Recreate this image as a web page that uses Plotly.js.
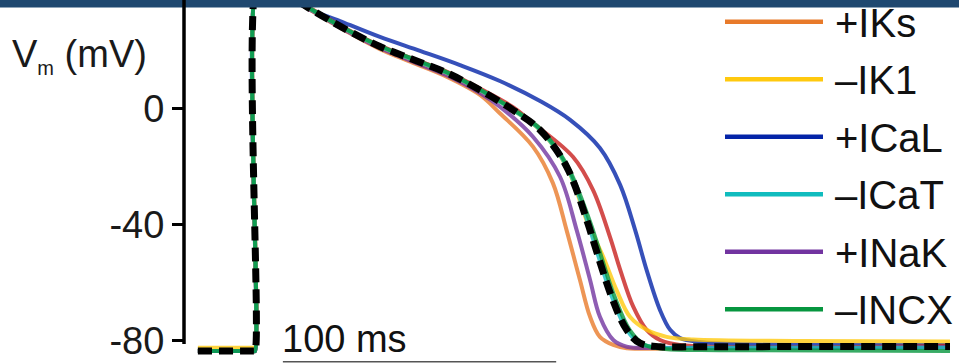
<!DOCTYPE html>
<html><head><meta charset="utf-8">
<script src="https://cdn.plot.ly/plotly-3.0.1.min.js"></script>
<style>html,body{margin:0;padding:0;background:#fff;overflow:hidden}#chart{width:959px;height:364px}</style>
</head><body><div id="chart"></div>
<script>
// ---- data (time in ms relative to upstroke, membrane potential in mV) ----
const timeControl = [-20.9, -0.4, 0, 1.2, 4, 10, 20.9, 33.7, 45.7, 57.8, 70.3, 82.3, 94.4, 104.3, 114.0, 121.8, 123.7, 130.5, 136.0, 140.9, 148.2, 162.8, 254.3];
const vmControl   = [-83.7, -83.7, -83.7, 46, 45, 40.5, 33.9, 27.0, 21.3, 16.8, 12.2, 6.3, -0.6, -7.5, -20.1, -39.7, -45.4, -65.0, -76.4, -81.0, -82.2, -82.2, -82.1];

const timeIKr = [-20.9, -0.4, 0, 1.2, 4, 10, 20.9, 33.7, 45.7, 57.8, 70.3, 82.3, 94.4, 101.7, 116.4, 123.7, 129.9, 133.6, 138.4, 143.3, 148.2, 155.5, 254.3];
const vmIKr   = [-83.7, -83.7, -83.7, 46, 45, 40.8, 34.2, 27.3, 21.6, 17.1, 12.6, 6.8, 0.4, -5.1, -16.8, -28.2, -44.4, -55.6, -68.4, -76.4, -79.9, -81.6, -81.9];

const timeICaL = [-20.9, -0.4, 0, 1.2, 4, 10, 17.6, 31.1, 45.7, 60.4, 75.0, 89.6, 104.3, 115.3, 126.2, 133.6, 139.1, 143.3, 148.2, 151.9, 155.5, 162.8, 181.1, 254.3];
const vmICaL   = [-83.7, -83.7, -83.7, 46, 46, 42, 35.3, 30.1, 24.6, 19.8, 14.9, 9.4, 2.5, -4.0, -13.7, -26.4, -42.0, -55.8, -69.6, -76.4, -79.2, -80.6, -81.4, -81.6];

const timeIKs = [-20.9, -0.4, 0, 1.2, 4, 10, 20.9, 33.7, 45.7, 57.8, 70.3, 82.3, 89.6, 101.7, 109.0, 114.0, 118.9, 122.6, 126.2, 131.1, 136.0, 162.8, 254.3];
const vmIKs   = [-83.7, -83.7, -83.7, 46, 45, 40, 33.5, 26.4, 20.4, 15.7, 10.8, 4.6, -1.7, -13.2, -25.8, -42.0, -59.2, -71.9, -78.8, -81.6, -82.7, -82.7, -82.5];

const timeINaK = [-20.9, -0.4, 0, 1.2, 4, 10, 20.9, 33.7, 45.7, 57.8, 70.3, 82.3, 89.6, 101.7, 111.6, 117.7, 122.6, 126.2, 131.1, 136.0, 148.2, 254.3];
const vmINaK   = [-83.7, -83.7, -83.7, 46, 45, 40.2, 33.6, 26.6, 20.8, 16.1, 11.3, 5.3, 0.6, -9.8, -23.6, -42.0, -59.2, -71.9, -79.9, -82.2, -82.6, -82.3];

const timeIK1 = [-20.9, -0.4, 0, 1.2, 4, 10, 20.9, 33.7, 45.7, 57.8, 70.3, 82.3, 94.4, 104.3, 114.0, 121.8, 127.4, 132.3, 137.2, 143.3, 150.6, 160.3, 199.4, 254.3];
const vmIK1   = [-82.6, -82.6, -82.6, 46, 45, 40.5, 33.9, 27.0, 21.3, 16.8, 12.2, 6.3, -0.6, -7.5, -20.1, -39.7, -51.2, -62.7, -71.9, -76.4, -78.8, -79.7, -80.2, -80.4];

const timeICaT = [-20.9, -0.4, 0, 1.2, 4, 10, 20.9, 33.7, 45.7, 57.8, 70.3, 82.3, 94.4, 104.3, 114.0, 121.8, 123.7, 130.5, 136.0, 140.9, 148.2, 162.8, 254.3];
const vmICaT   = [-83.7, -83.7, -83.7, 46, 45, 40.5, 33.9, 27.0, 21.3, 16.8, 12.2, 6.3, -0.6, -7.4, -19.9, -39.4, -45.1, -64.7, -76.3, -81.1, -82.5, -82.6, -82.6];

const timeINCX = [-20.9, -0.4, 0, 1.2, 4, 10, 20.9, 33.7, 45.7, 57.8, 70.3, 82.3, 94.4, 104.3, 114.0, 122.8, 124.8, 131.6, 137.2, 142.5, 150.0, 170.0, 254.3];
const vmINCX   = [-83.7, -83.7, -83.7, 46, 45, 40.6, 34.0, 27.1, 21.5, 17.0, 12.4, 6.5, -0.3, -7.0, -19.3, -39.7, -45.4, -65.0, -76.6, -81.5, -83.0, -83.4, -83.7];

const legendNames  = ['+IKs', '\u2013IK1', '+ICaL', '\u2013ICaT', '+INaK', '\u2013INCX'];
const legendColors = ['#E87A2A', '#FFC90E', '#0424A8', '#10BCBE', '#7234A0', '#06963F'];
const colorIKr = '#C8201E';

const yTickVals = [-80, -40, 0];
const yTickText = ['-80', '-40', '0'];
const scaleBarStart = 10.2, scaleBarLength = 100, scaleBarLabel = '100 ms';

// ---- layout geometry ----
const W = 959, H = 364, ML = 184;
const plotW = W - ML;
const px2x = px => (px - ML) / plotW;
const py2y = py => 1 - py / H;
const yTop = 37.35, yBottom = -88.17;
const FONT = 'Liberation Sans, Arial, sans-serif';

function curve(t, v, color, width) {
  return {
    x: t, y: v, type: 'scatter', mode: 'lines', hoverinfo: 'skip', showlegend: false,
    line: {color: color, width: width, shape: 'spline', smoothing: 1}, opacity: 0.8
  };
}

const traces = [
  curve(timeICaL, vmICaL, legendColors[2], 4),
  curve(timeIKr, vmIKr, colorIKr, 4),
  curve(timeIKs, vmIKs, legendColors[0], 4),
  curve(timeINaK, vmINaK, legendColors[4], 4),
  curve(timeIK1, vmIK1, legendColors[1], 4),
  curve(timeICaT, vmICaT, legendColors[3], 4),
  curve(timeINCX, vmINCX, legendColors[5], 4),
  {x: timeControl, y: vmControl, type: 'scatter', mode: 'lines', hoverinfo: 'skip', showlegend: false,
   line: {color: '#000', width: 7, dash: '14px,7px', shape: 'spline', smoothing: 1}}
];

const shapes = [
  // header band
  {type: 'rect', xref: 'paper', yref: 'paper', x0: px2x(0), x1: 1, y0: py2y(7.5), y1: 1,
   fillcolor: '#1F4870', line: {width: 0}, layer: 'above'},
  // y axis line
  {type: 'line', xref: 'paper', yref: 'y', x0: 0, x1: 0, y0: -81.3, y1: yTop,
   line: {color: '#000', width: 3.5}},
  // scale bar
  {type: 'line', xref: 'x', yref: 'y', x0: scaleBarStart, x1: scaleBarStart + scaleBarLength,
   y0: -87.4, y1: -87.4, line: {color: '#555', width: 1.5}}
];

const annotations = [
  {xref: 'paper', yref: 'paper', x: px2x(10), y: py2y(31), xanchor: 'left', yanchor: 'top',
   text: "V<sub><span style='font-size:20px'>m</span></sub> (mV)", showarrow: false,
   font: {family: FONT, size: 38, color: '#1a1a1a'}},
  {xref: 'x', yref: 'y', x: scaleBarStart - 1.2, y: -79.6, xanchor: 'left', yanchor: 'middle',
   text: scaleBarLabel, showarrow: false, font: {family: FONT, size: 38, color: '#111'}}
];

legendNames.forEach((name, i) => {
  const rowY = 21.7 + 57.5 * i;
  shapes.push({type: 'line', xref: 'paper', yref: 'paper', x0: px2x(725), x1: px2x(823),
    y0: py2y(rowY), y1: py2y(rowY), line: {color: legendColors[i], width: 4.5}, layer: 'above'});
  annotations.push({xref: 'paper', yref: 'paper', x: px2x(833), y: py2y(rowY + 1), xanchor: 'left', yanchor: 'middle',
    text: name, showarrow: false, font: {family: FONT, size: 40, color: '#111'}});
});

const layout = {
  width: W, height: H, margin: {l: ML, r: 0, t: 0, b: 0, pad: 0},
  paper_bgcolor: '#fff', plot_bgcolor: '#fff', showlegend: false,
  xaxis: {range: [(ML - 255) / 2.733, (W - 255) / 2.733], visible: false, fixedrange: true},
  yaxis: {range: [yBottom, yTop], showgrid: false, zeroline: false, showline: false,
    tickmode: 'array', tickvals: yTickVals, ticktext: yTickText, ticks: 'outside',
    ticklen: 11, tickwidth: 3.5, tickcolor: '#000', ticklabelstandoff: 0,
    tickfont: {family: FONT, size: 38, color: '#1a1a1a'}, fixedrange: true},
  shapes: shapes, annotations: annotations
};

Plotly.newPlot('chart', traces, layout, {staticPlot: true, displayModeBar: false});
</script>
</body></html>
